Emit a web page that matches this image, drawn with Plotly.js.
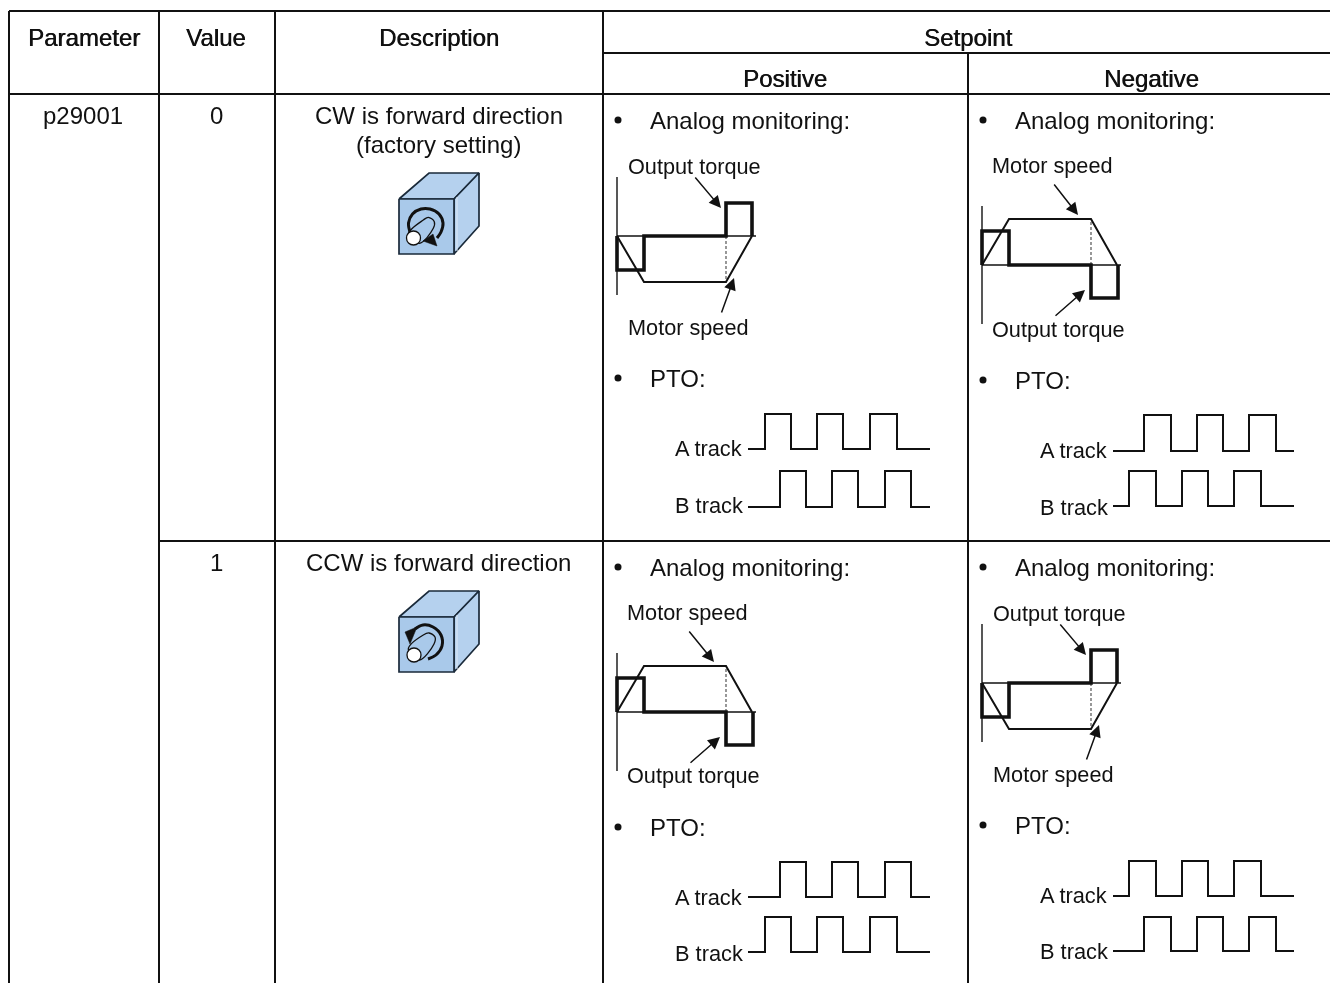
<!DOCTYPE html>
<html>
<head>
<meta charset="utf-8">
<script src="https://cdn.plot.ly/plotly-3.0.1.min.js"></script>
<style>html,body{margin:0;padding:0;background:#fff;overflow:hidden}#chart{width:1330px;height:983px;filter:blur(0.35px)}</style>
</head>
<body>
<div id="chart"></div>
<script>
// Table grid
const gridX = [9, 159, 275, 603, 968, 1330];
const gridY = [11, 53, 94, 541, 983];

// Drive profile (time, level relative to the zero line); positive level = upward
const profileTime = [0, 27, 109, 135];
const speedUp = [0, -46, -46, 0];
const speedDown = [0, 46, 46, 0];
const torqueUpT = [0, 0, 27, 27, 109, 109, 135, 135];
const torqueUpV = [0, 34, 34, 0, 0, -33, -33, 0];
const torqueDnT = [0, 0, 27, 27, 109, 109, 136, 136];
const torqueDnV = [0, -34, -34, 0, 0, 33, 33, 0];

// PTO pulse edges [start, rise, fall, rise, fall, rise, fall, end]
const edgesEarlyPos = [748, 765, 791, 817, 843, 870, 897, 930];
const edgesLatePos = [748, 780, 806, 832, 858, 885, 911, 930];
const edgesEarlyNeg = [1113, 1129, 1156, 1182, 1208, 1234, 1261, 1294];
const edgesLateNeg = [1113, 1144, 1171, 1197, 1223, 1249, 1276, 1294];

// Motor icon geometry
const iconFrontX = [399, 454, 454, 399, 399];
const iconFrontY = [0, 0, 55, 55, 0];
const iconTopX = [399, 429, 479, 454, 399];
const iconTopY = [0, -26, -26, 0, 0];
const iconSideX = [454, 479, 479, 454, 454];
const iconSideY = [0, -26, 27, 55, 0];

const textColor = '#111111';
const traces = [];
const annotations = [];

function line(x, y, width, color, dash, shape) {
  traces.push({x, y, type: 'scatter', mode: 'lines', hoverinfo: 'skip', showlegend: false,
    line: {color: color || '#111', width, dash: dash || 'solid', simplify: false, shape: shape || 'linear', smoothing: 1}});
}
function poly(x, y, fill, lineColor, width, shape) {
  traces.push({x, y, type: 'scatter', mode: 'lines', fill: 'toself', fillcolor: fill, hoverinfo: 'skip', showlegend: false,
    line: {color: lineColor, width: width, simplify: false, shape: shape || 'linear', smoothing: 1}});
}
function label(text, x, y, size, anchor, bold) {
  const font = {family: 'Liberation Sans, Arial, sans-serif', size, color: textColor};
  if (bold) font.shadow = '0.6px 0 0 #111';
  annotations.push({text, x, y, xref: 'x', yref: 'y', showarrow: false, xanchor: anchor, yanchor: 'middle', font,
    borderpad: 0, borderwidth: 0});
}
function arrow(x0, y0, x1, y1) {
  annotations.push({text: '', x: x1, y: y1, ax: x0, ay: y0, xref: 'x', yref: 'y', axref: 'x', ayref: 'y',
    showarrow: true, arrowhead: 2, arrowsize: 1.6, arrowwidth: 1.5, arrowcolor: '#111', standoff: 0});
}

// ---- grid
const G = gridX, H = gridY;
const gx = [], gy = [];
[[G[0], H[0], H[4]], [G[1], H[0], H[4]], [G[2], H[0], H[4]], [G[3], H[0], H[4]], [G[4], H[1], H[4]]].forEach(s => {
  gx.push(s[0], s[0], null); gy.push(s[1], s[2], null);
});
[[H[0], G[0]], [H[1], G[3]], [H[2], G[0]], [H[3], G[1]]].forEach(s => {
  gx.push(s[1], G[5], null); gy.push(s[0], s[0], null);
});
line(gx, gy, 2, '#111');

// ---- drive diagrams
function drive(x0, base, up, t1, t2, a1, a2) {
  const tT = up ? torqueUpT : torqueDnT, tV = up ? torqueUpV : torqueDnV;
  const sV = up ? speedDown : speedUp;
  line([x0, x0], [base - 59, base + 59], 1.4);
  line([x0, x0 + 139], [base, base], 1.3, '#111');
  line([x0 + 109, x0 + 109], [base, base + sV[1]], 1.1, '#444', '3px,2px');
  line(profileTime.map(t => x0 + t), sV.map(v => base + v), 2);
  line(tT.map(t => x0 + t), tV.map(v => base + v), 3.6);
  label(t1[0], t1[1], t1[2], 21.7, 'left');
  label(t2[0], t2[1], t2[2], 21.7, 'left');
  arrow(a1[0], a1[1], a1[2], a1[3]);
  arrow(a2[0], a2[1], a2[2], a2[3]);
}
drive(617, 236, true, ['Output torque', 628, 166], ['Motor speed', 628, 327], [694, 176, 721, 208], [721, 314, 734, 278]);
drive(982, 265, false, ['Motor speed', 992, 165], ['Output torque', 992, 329], [1053, 183, 1078, 215], [1054, 317, 1085, 290]);
drive(617, 712, false, ['Motor speed', 627, 612], ['Output torque', 627, 775], [688, 630, 714, 662], [689, 764, 720, 737]);
drive(982, 683, true, ['Output torque', 993, 613], ['Motor speed', 993, 774], [1059, 623, 1086, 655], [1086, 761, 1099, 725]);

// ---- PTO pulses
function pulse(edges, low, high) {
  const x = [edges[0]], y = [low];
  for (let i = 1; i < edges.length - 1; i++) {
    const a = i % 2 === 1 ? low : high, b = i % 2 === 1 ? high : low;
    x.push(edges[i], edges[i]); y.push(a, b);
  }
  x.push(edges[edges.length - 1]); y.push(low);
  line(x, y, 2);
}
pulse(edgesEarlyPos, 449, 414);
pulse(edgesLatePos, 507, 471);
pulse(edgesLateNeg, 451, 415);
pulse(edgesEarlyNeg, 506, 471);
pulse(edgesLatePos, 897, 862);
pulse(edgesEarlyPos, 952, 917);
pulse(edgesEarlyNeg, 896, 861);
pulse(edgesLateNeg, 951, 917);

[[675, 448, 'A track'], [675, 505, 'B track'], [1040, 450, 'A track'], [1040, 507, 'B track'],
 [675, 897, 'A track'], [675, 953, 'B track'], [1040, 895, 'A track'], [1040, 951, 'B track']].forEach(r => label(r[2], r[0], r[1], 21.8, 'left'));

// ---- motor icons
function icon(yTop, arcX, arcY, headX, headY, capX, capY, circX, circY) {
  poly(iconTopX, iconTopY.map(v => v + yTop), '#b5d1ee', '#1a2a3a', 1.7);
  poly(iconSideX, iconSideY.map(v => v + yTop), '#b5d1ee', '#1a2a3a', 1.7);
  poly(iconFrontX, iconFrontY.map(v => v + yTop), '#a9c9ea', '#1a2a3a', 1.7);
  line([457, 457], [yTop - 2, yTop + 52], 1, '#dfeaf6');
  line(arcX, arcY, 3, '#111', null, 'spline');
  poly(capX, capY, '#a9c9ea', '#111', 1.3, 'spline');
  poly(circX, circY, '#ffffff', '#111', 1.3, 'spline');
  poly(headX, headY, '#111', '#111', 0.5);
}
const arc0X = [410, 408.5, 412.5, 421, 430, 439, 443, 441, 437];
const arc0Y = [232, 223, 214, 209, 209, 214, 223, 232, 238];
const head0X = [423, 433, 437, 423];
const head0Y = [241, 234, 246, 241];
const cap0X = [408.3, 423.3, 428.3, 434.3, 433.3, 419.3, 408.3];
const cap0Y = [234, 220, 217.3, 221.7, 228.3, 243.3, 234];
const circ0X = [413.5, 418.5, 420.5, 418.5, 413.5, 408.5, 406.5, 408.5, 413.5];
const circ0Y = [231, 233, 238, 243, 245, 243, 238, 233, 231];
icon(199, arc0X, arc0Y, head0X, head0Y, cap0X, cap0Y, circ0X, circ0Y);

const arc1X = [415, 423, 433, 441, 442, 436, 428];
const arc1Y = [629, 625, 627, 635, 646, 655, 659];
const head1X = [405, 417, 410, 405];
const head1Y = [632, 627, 644, 632];
const cap1X = [408.3, 423.3, 429, 435, 434, 419.3, 408.3];
const cap1Y = [649, 635, 633, 637, 644, 660, 649];
const circ1X = [414, 419, 421, 419, 414, 409, 407, 409, 414];
const circ1Y = [648, 650, 655, 660, 662, 660, 655, 650, 648];
icon(617, arc1X, arc1Y, head1X, head1Y, cap1X, cap1Y, circ1X, circ1Y);

// ---- bullets
traces.push({x: [618, 983, 618, 983, 618, 983, 618, 983], y: [120, 120, 378, 380, 567, 567, 827, 825],
  type: 'scatter', mode: 'markers', hoverinfo: 'skip', showlegend: false,
  marker: {color: '#111', size: 7, line: {width: 0}}});

// ---- text
const headerLabels = [['Parameter', 84, 37], ['Value', 216, 37], ['Description', 439, 37], ['Setpoint', 968, 37], ['Positive', 785, 78], ['Negative', 1151, 78]];
headerLabels.forEach(r => label(r[0], r[1], r[2], 24, 'center', true));
const bodyLabels = [['p29001', 83, 115], ['0', 216, 115], ['CW is forward direction', 438.5, 115], ['(factory setting)', 438.5, 144], ['1', 216, 562], ['CCW is forward direction', 438.5, 562]];
bodyLabels.forEach(r => label(r[0], r[1], r[2], 24, 'center'));
[[650, 120], [1015, 120], [650, 567], [1015, 567]].forEach(r => label('Analog monitoring:', r[0], r[1], 24, 'left'));
[[650, 378], [1015, 380], [650, 827], [1015, 825]].forEach(r => label('PTO:', r[0], r[1], 24, 'left'));

const layout = {
  width: 1330, height: 983,
  margin: {l: 0, r: 0, t: 0, b: 0, pad: 0},
  paper_bgcolor: '#fff', plot_bgcolor: '#fff',
  showlegend: false, hovermode: false, dragmode: false,
  xaxis: {range: [0, 1330], visible: false, fixedrange: true},
  yaxis: {range: [983, 0], visible: false, fixedrange: true},
  annotations
};
Plotly.newPlot('chart', traces, layout, {displayModeBar: false, staticPlot: true});
</script>
</body>
</html>
